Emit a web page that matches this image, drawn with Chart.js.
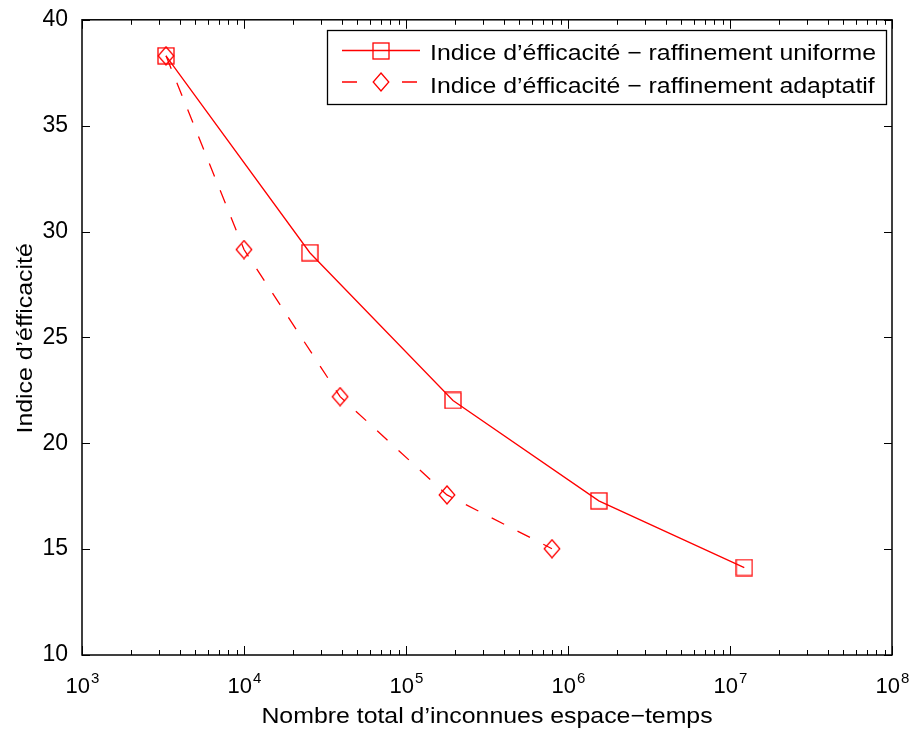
<!DOCTYPE html>
<html>
<head>
<meta charset="utf-8">
<script src="https://cdn.jsdelivr.net/npm/chart.js@4.4.1/dist/chart.umd.min.js"></script>
<style>
    html, body { margin: 0; padding: 0; background: #ffffff; }
    #wrap { width: 914px; height: 731px; }
</style>
</head>
<body>
<div id="wrap"><canvas id="effChart" width="914" height="731"></canvas></div>
<script>
/* ========================================
   Indice d'efficacite vs nombre d'inconnues
   ======================================== */

// Data
const uniformDofs = [3300, 25500, 195000, 1550000, 12250000];
const uniformIndex = [38.3, 29.0, 22.02, 17.28, 14.13];
const adaptiveDofs = [3300, 10000, 39200, 179000, 796000];
const adaptiveIndex = [38.3, 29.15, 22.2, 17.56, 15.02];

const seriesLabels = [
    'Indice d’éfficacité − raffinement uniforme',
    'Indice d’éfficacité − raffinement adaptatif'
];
const xTitle = 'Nombre total d’inconnues espace−temps';
const yTitle = 'Indice d’éfficacité';
const xExponents = [3, 4, 5, 6, 7, 8];
const yTicks = [10, 15, 20, 25, 30, 35, 40];

const FONT = '"Liberation Sans", Arial, Helvetica, sans-serif';
const RED = '#ff0000';
const WIDE = 1.13;   // matlab helvetica renders wider than arial

// marker images (matlab-like square and diamond)
function makeSquare() {
    const c = document.createElement('canvas');
    c.width = 18; c.height = 18;
    const g = c.getContext('2d');
    g.strokeStyle = RED;
    g.lineWidth = 1.3;
    g.strokeRect(1, 1, 16, 16);
    return c;
}

function makeDiamond() {
    const c = document.createElement('canvas');
    c.width = 18; c.height = 20;
    const g = c.getContext('2d');
    g.strokeStyle = RED;
    g.lineWidth = 1.3;
    g.beginPath();
    g.moveTo(9, 1);
    g.lineTo(16.8, 10);
    g.lineTo(9, 19);
    g.lineTo(1.2, 10);
    g.closePath();
    g.stroke();
    return c;
}

const squareImg = makeSquare();
const diamondImg = makeDiamond();

function toPoints(xs, ys) {
    return xs.map((x, i) => ({ x: x, y: ys[i] }));
}

function wideText(ctx, text, x, y, align, rotation) {
    ctx.save();
    ctx.translate(x, y);
    if (rotation) ctx.rotate(rotation);
    ctx.scale(WIDE, 1);
    ctx.font = '22px ' + FONT;
    ctx.fillStyle = '#000';
    ctx.textAlign = align;
    ctx.textBaseline = 'alphabetic';
    ctx.fillText(text, 0, 0);
    ctx.restore();
}

// box, inward ticks, x labels with exponents, titles, legend
const matlabAxes = {
    id: 'matlabAxes',
    afterDraw(chart) {
        const ctx = chart.ctx;
        const area = chart.chartArea;
        const xs = chart.scales.x;
        const ys = chart.scales.y;

        ctx.save();
        ctx.strokeStyle = '#000';
        ctx.lineWidth = 1.5;
        ctx.strokeRect(area.left, area.top, area.right - area.left, area.bottom - area.top);

        ctx.lineWidth = 1;
        ctx.beginPath();
        // y ticks, both sides
        yTicks.forEach(v => {
            const py = Math.round(ys.getPixelForValue(v)) + 0.5;
            ctx.moveTo(area.left, py); ctx.lineTo(area.left + 8, py);
            ctx.moveTo(area.right, py); ctx.lineTo(area.right - 8, py);
        });
        // x ticks, major + minor, both sides
        xExponents.forEach((e, i) => {
            const base = Math.pow(10, e);
            const px = Math.round(xs.getPixelForValue(base)) + 0.5;
            ctx.moveTo(px, area.bottom); ctx.lineTo(px, area.bottom - 9);
            ctx.moveTo(px, area.top); ctx.lineTo(px, area.top + 9);
            if (i === xExponents.length - 1) return;
            for (let m = 2; m <= 9; m++) {
                const mx = Math.round(xs.getPixelForValue(m * base)) + 0.5;
                ctx.moveTo(mx, area.bottom); ctx.lineTo(mx, area.bottom - 5);
                ctx.moveTo(mx, area.top); ctx.lineTo(mx, area.top + 5);
            }
        });
        ctx.stroke();

        // x tick labels 10^n
        ctx.fillStyle = '#000';
        ctx.textBaseline = 'alphabetic';
        ctx.textAlign = 'left';
        xExponents.forEach(e => {
            const px = xs.getPixelForValue(Math.pow(10, e));
            ctx.font = '22px ' + FONT;
            const wBase = ctx.measureText('10').width;
            ctx.font = '15px ' + FONT;
            const wExp = ctx.measureText(String(e)).width;
            const x0 = px - (wBase + wExp) / 2;
            ctx.font = '22px ' + FONT;
            ctx.fillText('10', x0, area.bottom + 38);
            ctx.font = '15px ' + FONT;
            ctx.fillText(String(e), x0 + wBase + 1, area.bottom + 28);
        });

        // axis titles
        wideText(ctx, xTitle, (area.left + area.right) / 2, area.bottom + 68, 'center', 0);
        wideText(ctx, yTitle, 32, (area.top + area.bottom) / 2 + 1, 'center', -Math.PI / 2);

        // legend
        const lx = 327, ly = 30, lw = 559, lh = 74;
        ctx.fillStyle = '#fff';
        ctx.fillRect(lx, ly, lw, lh);
        ctx.strokeStyle = '#000';
        ctx.lineWidth = 1.3;
        ctx.strokeRect(lx + 0.5, ly + 0.5, lw, lh);

        const rows = [
            { y: 50.5, base: 60, dash: false, img: squareImg },
            { y: 82, base: 93, dash: true, img: diamondImg }
        ];
        rows.forEach((r, i) => {
            ctx.strokeStyle = RED;
            ctx.lineWidth = 1.3;
            ctx.beginPath();
            if (r.dash) {
                ctx.moveTo(342, r.y); ctx.lineTo(357, r.y);
                ctx.moveTo(402, r.y); ctx.lineTo(417, r.y);
            } else {
                ctx.moveTo(342, r.y); ctx.lineTo(420, r.y);
            }
            ctx.stroke();
            ctx.drawImage(r.img, 381 - r.img.width / 2, Math.round(r.y - r.img.height / 2));
            wideText(ctx, seriesLabels[i], 430, r.base, 'left', 0);
        });
        ctx.restore();
    }
};

const effChart = new Chart(document.getElementById('effChart').getContext('2d'), {
    type: 'line',
    data: {
        datasets: [{
            label: seriesLabels[0],
            data: toPoints(uniformDofs, uniformIndex),
            borderColor: RED,
            backgroundColor: RED,
            borderWidth: 1.3,
            pointStyle: squareImg,
            tension: 0,
            fill: false
        }, {
            label: seriesLabels[1],
            data: toPoints(adaptiveDofs, adaptiveIndex),
            borderColor: RED,
            backgroundColor: RED,
            borderWidth: 1.3,
            borderDash: [14, 15],
            pointStyle: diamondImg,
            tension: 0,
            fill: false
        }]
    },
    options: {
        responsive: false,
        animation: false,
        devicePixelRatio: 1,
        layout: {
            padding: { top: 16, right: 22, left: 0, bottom: 0 }
        },
        plugins: {
            legend: { display: false },
            tooltip: { enabled: false }
        },
        scales: {
            x: {
                type: 'logarithmic',
                min: 1000,
                max: 100000000,
                grid: { display: false },
                border: { display: false },
                ticks: { display: false },
                afterFit(scale) { scale.height = 76; }
            },
            y: {
                min: 10,
                max: 40,
                grid: { display: false },
                border: { display: false },
                ticks: {
                    stepSize: 5,
                    color: '#000',
                    padding: 6,
                    font: { family: FONT, size: 23 }
                },
                afterFit(scale) { scale.width = 82; }
            }
        }
    },
    plugins: [matlabAxes]
});
</script>
</body>
</html>
